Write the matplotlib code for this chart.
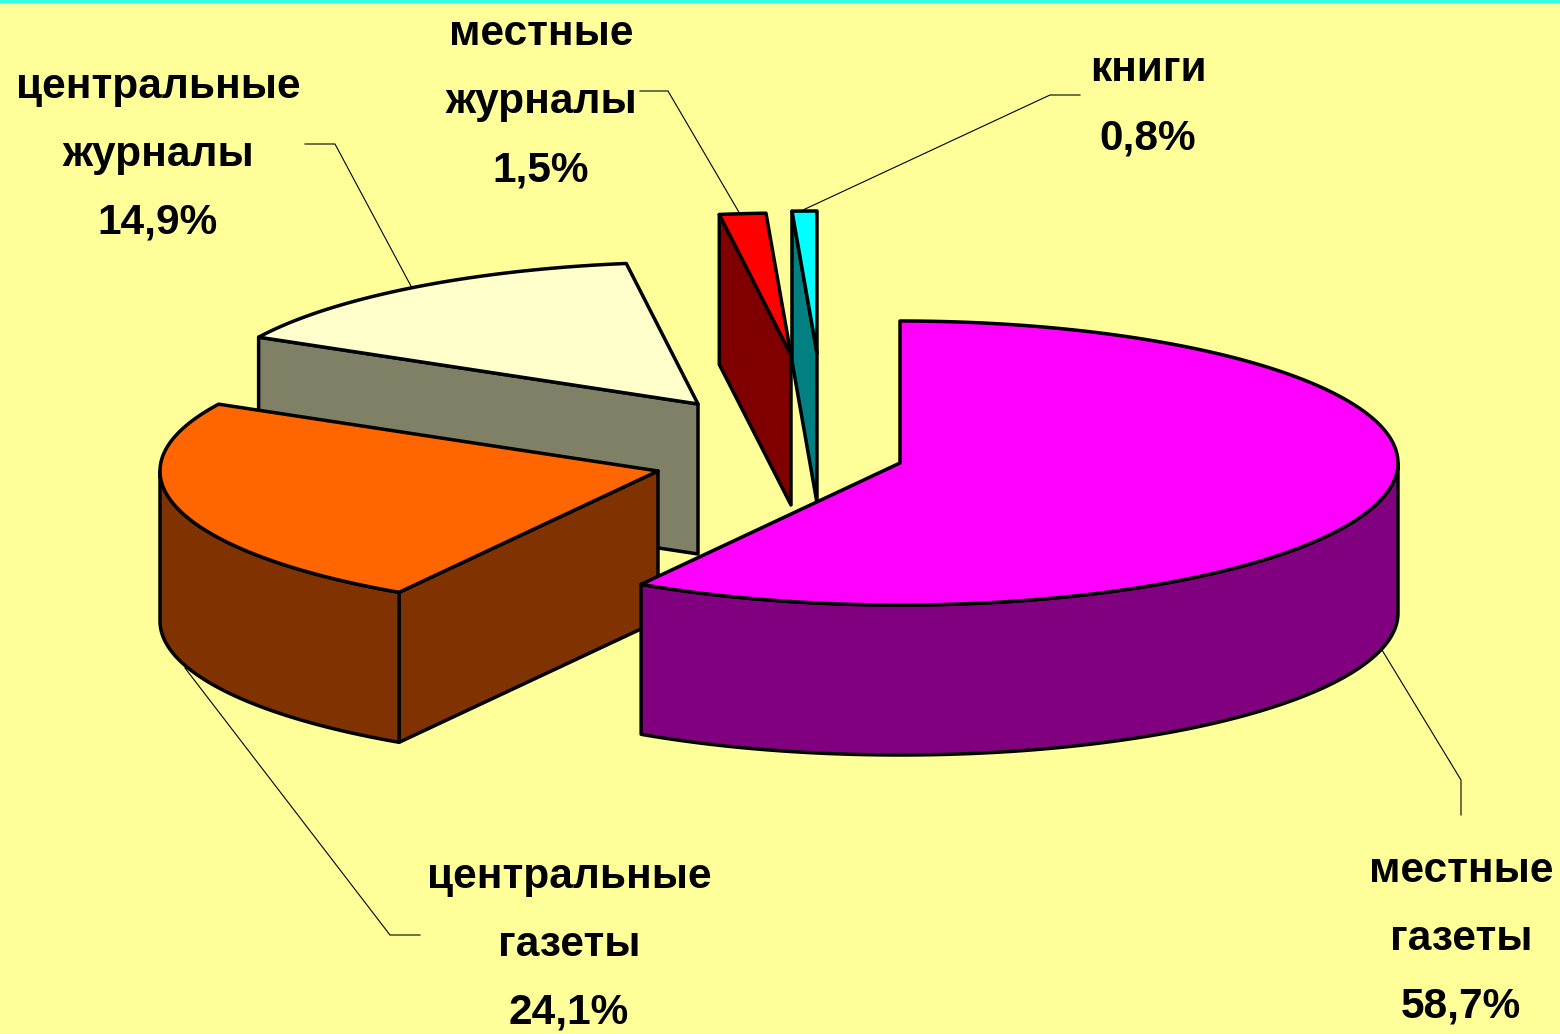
import numpy as np
import matplotlib
matplotlib.use("Agg")
import matplotlib.pyplot as plt
from matplotlib.patches import Polygon

# Data
categories = ["местные\nгазеты", "центральные\nгазеты", "центральные\nжурналы", "местные\nжурналы", "книги"]
values = [58.7, 24.1, 14.9, 1.5, 0.8]
value_labels = ["58,7%", "24,1%", "14,9%", "1,5%", "0,8%"]

# Styles and layout (pixel coordinates of the picture)
top_colors = ["#FF00FF", "#FF6600", "#FFFFCC", "#FF0000", "#00FFFF"]
side_colors = ["#800080", "#803300", "#808066", "#800000", "#008080"]
centers = [(900, 463), (658, 471), (698, 404), (791, 355), (817, 353)]
RX, RY, DEPTH = 498, 142, 150
draw_order = [2, 1, 3, 4, 0]
label_pos = [(1461, 882), (569, 888), (158, 98), (541, 45), (1148, 81)]
leaders = [
    [(1461, 815), (1461, 780), (1382, 650)],
    [(420, 935), (390, 935), (185, 668)],
    [(305, 144), (335, 144), (412, 288)],
    [(640, 91), (668, 91), (740, 214)],
    [(1080, 95), (1050, 95), (803, 210)],
]
LINE_STEP = 68
BG = "#FFFF99"

fig = plt.figure(figsize=(15.6, 10.34), dpi=100, facecolor=BG)
ax = fig.add_axes([0, 0, 1, 1])
ax.set_xlim(0, 1560)
ax.set_ylim(1034, 0)
ax.axis("off")
ax.axhline(1, color="#33FFDD", lw=2.5)


def rim(c, a0, a1):
    n = max(2, int(abs(a1 - a0)) * 2)
    t = np.radians(np.linspace(a0, a1, n))
    return np.column_stack([c[0] + RX * np.sin(t), c[1] - RY * np.cos(t)])


def shifted(pts):
    return np.asarray(pts) + [0, DEPTH]


starts = np.concatenate([[0], np.cumsum(values)[:-1]]) * 3.6
ends = np.cumsum(values) * 3.6

for i in draw_order:
    c, a0, a1 = centers[i], starts[i], ends[i]
    kw = dict(facecolor=side_colors[i], edgecolor="black", lw=2.5, joinstyle="round")
    # radial faces
    for a, visible in ((a0, np.sin(np.radians(a0)) < -1e-6), (a1, np.sin(np.radians(a1)) > 1e-6)):
        if visible:
            p = rim(c, a, a)[:1]
            face = np.vstack([p, [c], shifted([c]), shifted(p)])
            ax.add_patch(Polygon(face, closed=True, **kw))
    # outer wall: only the front half of the rim
    lo, hi = max(a0, 90), min(a1, 270)
    if hi > lo:
        r = rim(c, lo, hi)
        ax.add_patch(Polygon(np.vstack([r, shifted(r)[::-1]]), closed=True, **kw))
    # top
    top = np.vstack([[c], rim(c, a0, a1)])
    ax.add_patch(Polygon(top, closed=True, facecolor=top_colors[i], edgecolor="black", lw=2.5, joinstyle="round"))

for path in leaders:
    xs, ys = zip(*path)
    ax.plot(xs, ys, color="black", lw=0.8)

for cat, val, (x, y) in zip(categories, value_labels, label_pos):
    for k, line in enumerate(cat.split("\n") + [val]):
        ax.text(x, y + k * LINE_STEP, line, ha="center", va="baseline", fontsize=30.5,
                fontweight="bold", family="Liberation Sans", color="black")

fig.savefig("out.png", dpi=100, facecolor=BG)
